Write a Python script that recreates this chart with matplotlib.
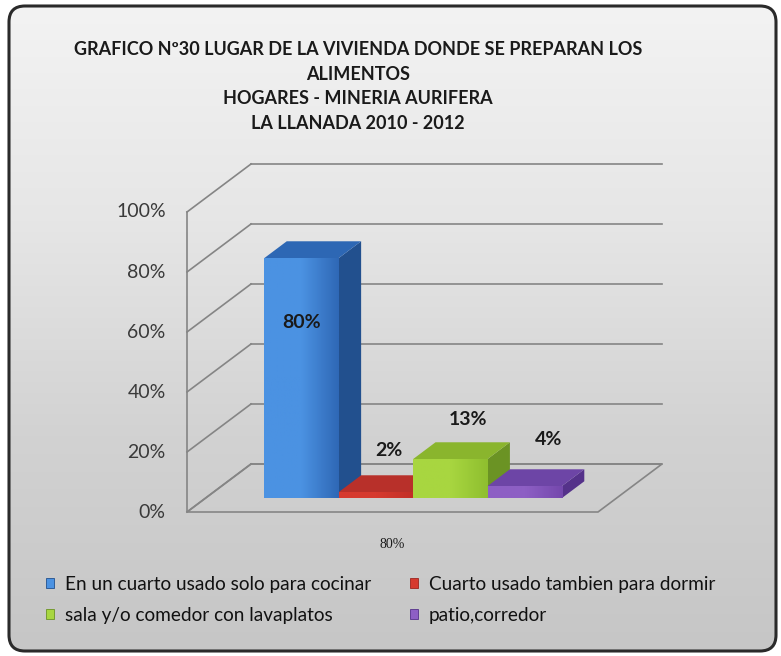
import numpy as np
import matplotlib
matplotlib.use("Agg")
import matplotlib.pyplot as plt
from matplotlib.patches import FancyBboxPatch, Polygon, Rectangle, Patch

# ---------------- data ----------------
title_lines = ["GRAFICO Nº30 LUGAR DE LA VIVIENDA DONDE SE PREPARAN LOS",
               "ALIMENTOS",
               "HOGARES - MINERIA AURIFERA",
               "LA LLANADA 2010 - 2012"]
category = "80%"
series = ["En un cuarto usado solo para cocinar",
          "Cuarto usado tambien para dormir",
          "sala y/o comedor con lavaplatos",
          "patio,corredor"]
values = [80, 2, 13, 4]
value_labels = ["80%", "2%", "13%", "4%"]
yticks = [0, 20, 40, 60, 80, 100]
ytick_labels = ["0%", "20%", "40%", "60%", "80%", "100%"]

# colours: (front-left, front-right, top, side)
colors = [("#4b92e2", "#2f68b6", "#2d67b4", "#22508e"),
          ("#d63a2f", "#c22f27", "#b8302a", "#9c2520"),
          ("#a8d640", "#8fbf2f", "#8ab52d", "#6b9324"),
          ("#8d5fc4", "#7548ad", "#6d45a6", "#55328a")]

SANS = ["Lato", "DejaVu Sans"]

W, H = 781, 656
fig = plt.figure(figsize=(W / 100, H / 100), dpi=100)

# ---------------- background frame ----------------
bg = fig.add_axes([0, 0, 1, 1])
bg.set_xlim(0, W)
bg.set_ylim(H, 0)
bg.axis("off")
frame = FancyBboxPatch((9, 6), 767, 645, boxstyle="round,pad=0,rounding_size=16",
                       facecolor="none", edgecolor="#2a2a2a", lw=2.2, zorder=3)
bg.add_patch(frame)
grad = np.linspace(0, 1, 256).reshape(-1, 1)
cmap = matplotlib.colors.LinearSegmentedColormap.from_list(
    "bgc", ["#f3f3f3", "#e6e6e6", "#d2d2d2", "#c6c6c6"])
im = bg.imshow(grad, cmap=cmap, extent=[9, 776, 651, 6], aspect="auto", zorder=1)
clip = FancyBboxPatch((9, 6), 767, 645, boxstyle="round,pad=0,rounding_size=16",
                      transform=bg.transData, facecolor="none", edgecolor="none")
bg.add_patch(clip)
im.set_clip_path(clip)

# title
bg.text(358, 86.5, "\n".join(title_lines), ha="center", va="center",
        fontsize=13, fontweight="bold", family=SANS, color="#1a1a1a",
        linespacing=1.57, zorder=5)

# ---------------- chart (oblique 3-D) ----------------
L, B, PW, PH = 187, 512, 411, 300           # front plane in pixels
ax = fig.add_axes([L / W, (H - B) / H, PW / W, PH / H])
ax.set_xlim(0, 1)
ax.set_ylim(0, 100)
ax.axis("off")
DX = 64 / PW          # full depth offset in x data units
DY = 48 / PH * 100    # full depth offset in y data units


def P(x, y, d):
    return (x + d * DX, y + d * DY)


gc = "#858585"
glw = 1.2
# back wall gridlines + side wall lines
for t in yticks:
    xa, ya = P(0, t, 1)
    xb, yb = P(1, t, 1)
    ax.plot([xa, xb], [ya, yb], color=gc, lw=glw, clip_on=False, zorder=1)
    x0, y0 = P(0, t, 0)
    ax.plot([x0, xa], [y0, ya], color=gc, lw=glw, clip_on=False, zorder=1)
ax.plot([0, 0], [0, 100], color=gc, lw=glw, clip_on=False, zorder=1)
# floor
floor = [P(0, 0, 0), P(1, 0, 0), P(1, 0, 1), P(0, 0, 1)]
ax.add_patch(Polygon(floor, closed=True, facecolor="none", edgecolor=gc,
                     lw=glw, clip_on=False, zorder=1))

# tick labels
for t, lab in zip(yticks, ytick_labels):
    ax.text(-0.052, t, lab, ha="right", va="center", fontsize=14,
            family=SANS, color="#3a3a3a", clip_on=False)

# category label
ax.text(0.5, -11, category, ha="center", va="center",
        fontsize=10, family=["Liberation Serif", "DejaVu Serif"], color="#1a1a1a",
        clip_on=False)

# bars
n = len(values)
bw = 0.181
start = 0.143
d0, d1 = 0.29, 0.64
label_off = [(0, -64), (13, 42), (18, 40), (24, 47)]   # pixel offsets of labels
for i, (v, c) in enumerate(zip(values, colors)):
    x0 = start + i * bw
    x1 = x0 + bw
    z = 2 + i
    side = [P(x1, 0, d0), P(x1, v, d0), P(x1, v, d1), P(x1, 0, d1)]
    top = [P(x0, v, d0), P(x1, v, d0), P(x1, v, d1), P(x0, v, d1)]
    ax.add_patch(Polygon(side, closed=True, facecolor=c[3], edgecolor="none",
                         clip_on=False, zorder=z))
    ax.add_patch(Polygon(top, closed=True, facecolor=c[2], edgecolor="none",
                         clip_on=False, zorder=z))
    fx0, fy0 = P(x0, 0, d0)
    fx1, fy1 = P(x1, v, d0)
    rect = Rectangle((fx0, fy0), fx1 - fx0, fy1 - fy0, facecolor="none",
                     edgecolor="none", clip_on=False, zorder=z)
    ax.add_patch(rect)
    cm = matplotlib.colors.LinearSegmentedColormap.from_list(
        "f%d" % i, [c[0], c[0], c[1]])
    g = np.linspace(0, 1, 64).reshape(1, -1)
    fim = ax.imshow(g, cmap=cm, extent=[fx0, fx1, fy0, fy1], aspect="auto",
                    zorder=z + 0.1)
    fim.set_clip_path(rect)
    # data label
    ax.annotate(value_labels[i], xy=((fx0 + fx1) / 2, fy1),
                xytext=label_off[i], textcoords="offset pixels",
                ha="center", va="center", fontsize=14, fontweight="bold",
                family=SANS, color="#1a1a1a", zorder=20, annotation_clip=False)
ax.set_xlim(0, 1)
ax.set_ylim(0, 100)

# legend
handles = [Patch(facecolor=c[0], edgecolor=c[3], lw=0.6) for c in colors]
order = [0, 2, 1, 3]
leg = fig.legend([handles[k] for k in order], [series[k] for k in order],
                 ncol=2, loc="upper left", bbox_to_anchor=(46 / W, 1 - 576 / H),
                 frameon=False, handlelength=0.42, handleheight=0.42,
                 handletextpad=0.6, columnspacing=2.0, labelspacing=0.72,
                 borderpad=0, borderaxespad=0,
                 prop={"family": SANS, "size": 13.7}, labelcolor="#111111")

fig.savefig("out.png", dpi=100)
